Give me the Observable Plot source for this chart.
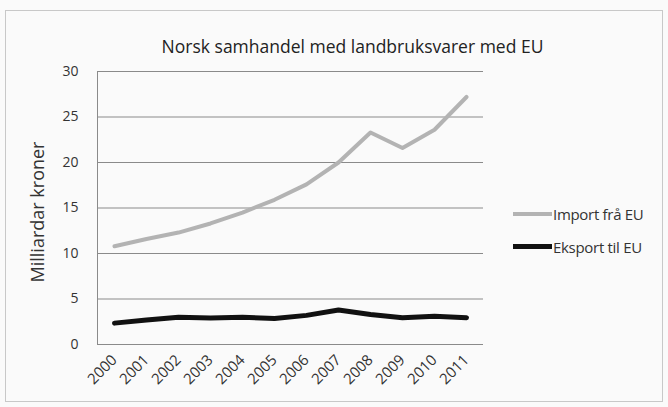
<!DOCTYPE html>
<html><head><meta charset="utf-8">
<script src="https://cdn.jsdelivr.net/npm/d3@7"></script>
<script src="https://cdn.jsdelivr.net/npm/@observablehq/plot@0.6"></script>
<style>
body{margin:0;background:#fff;}
#wrap{position:relative;width:668px;height:407px;background:#fafafa;font-family:"Open Sans",sans-serif;}
#border{position:absolute;left:5px;top:10px;width:656px;height:390px;border:1px solid #c8c8c8;}
#legend{position:absolute;left:513px;top:197px;font-size:15px;color:#333;letter-spacing:-0.3px;}
.li{display:flex;align-items:center;height:33px;}
.sw{width:39px;height:0;margin-right:1px;}
</style></head>
<body>
<div id="wrap"><div id="border"></div><div id="chart"></div>
<div id="legend">
<div class="li"><div class="sw" style="border-top:4px solid #b3b3b3"></div><span>Import frå EU</span></div>
<div class="li"><div class="sw" style="border-top:5px solid #111"></div><span>Eksport til EU</span></div>
</div></div>
<script>
const title = "Norsk samhandel med landbruksvarer med EU";
const yLabel = "Milliardar kroner";
const years = ["2000","2001","2002","2003","2004","2005","2006","2007","2008","2009","2010","2011"];
const importEU = [10.8, 11.6, 12.3, 13.3, 14.5, 15.9, 17.6, 20.0, 23.3, 21.6, 23.6, 27.2];
const exportEU = [2.35, 2.7, 3.0, 2.9, 3.0, 2.85, 3.2, 3.8, 3.3, 2.95, 3.1, 2.95];
const seriesNames = ["Import frå EU", "Eksport til EU"];
const yTicks = [0, 5, 10, 15, 20, 25, 30];

const rows = [];
years.forEach((y, i) => {
  rows.push({year: y, value: importEU[i], series: seriesNames[0]});
  rows.push({year: y, value: exportEU[i], series: seriesNames[1]});
});

const chart = Plot.plot({
  width: 668, height: 407,
  marginLeft: 97, marginRight: 185, marginTop: 71, marginBottom: 63,
  style: {background: "transparent", fontFamily: "Open Sans, sans-serif", fontSize: "14px", color: "#333"},
  x: {type: "point", domain: years, padding: 0.5},
  y: {domain: [0, 30]},
  marks: [
    Plot.gridY(yTicks, {stroke: "#8a8a8a", strokeOpacity: 1, strokeWidth: 1}),
    Plot.frame({anchor: "left", stroke: "#8a8a8a"}),
    Plot.axisY(yTicks, {tickSize: 0, tickPadding: 19, label: null, fontSize: 14}),
    Plot.axisX({tickSize: 0, tickRotate: -45, tickPadding: 13, label: null, fontSize: 15, letterSpacing: "-0.5px"}),
    Plot.text([yLabel], {frameAnchor: "left", textAnchor: "middle", dx: -59, dy: 4, rotate: -90, fontSize: 18, fill: "#333"}),
    Plot.text([title], {frameAnchor: "top", dx: 62, dy: -31, fontSize: 17.5, fill: "#222", letterSpacing: "-0.4px"}),
    Plot.line(rows.filter(d => d.series === seriesNames[0]), {x: "year", y: "value", stroke: "#b3b3b3", strokeWidth: 4}),
    Plot.line(rows.filter(d => d.series === seriesNames[1]), {x: "year", y: "value", stroke: "#111", strokeWidth: 5})
  ]
});
document.getElementById("chart").appendChild(chart);
chart.style.position = "absolute"; chart.style.left = "0"; chart.style.top = "0";
</script>
</body></html>
